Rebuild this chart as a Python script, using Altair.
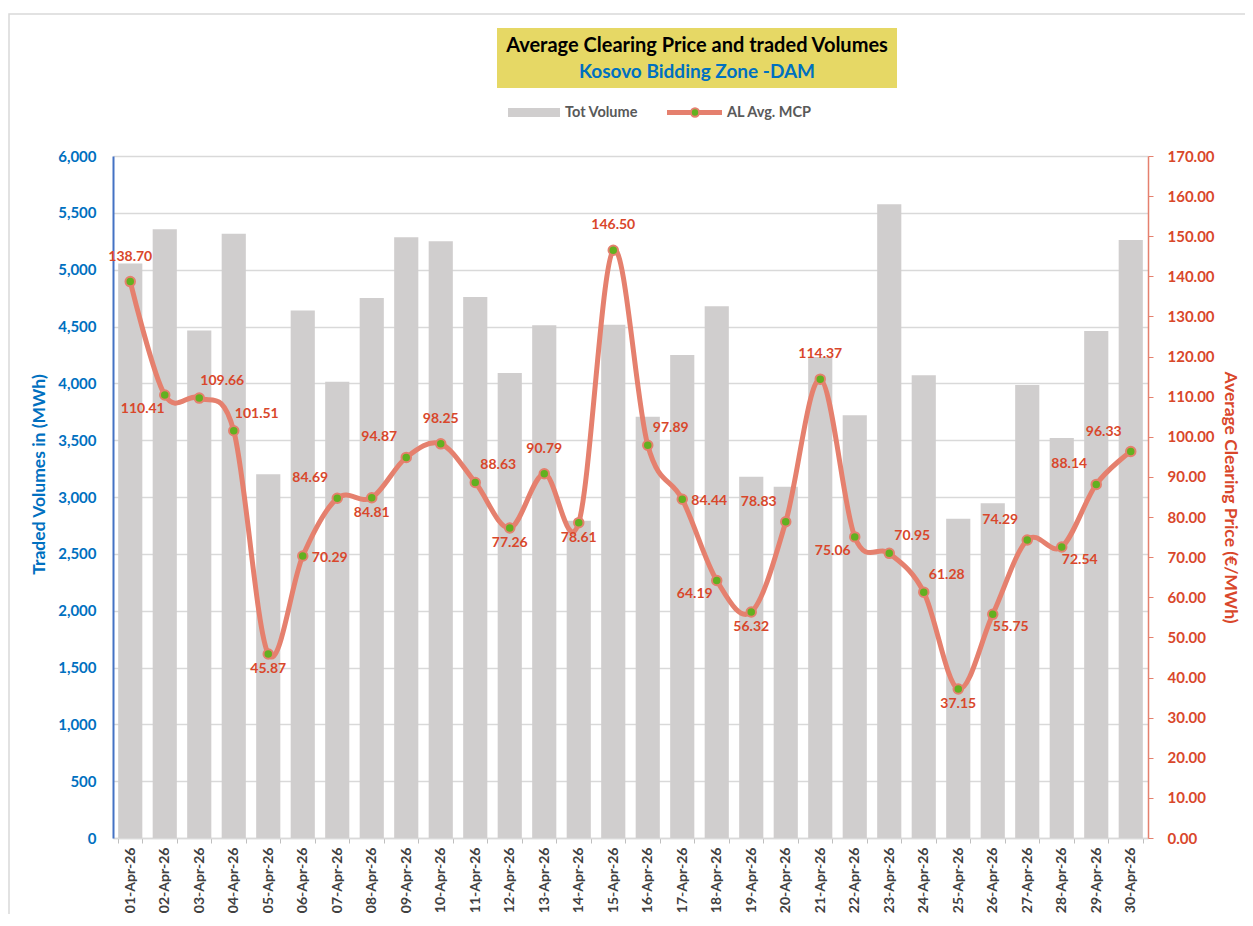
import altair as alt
import pandas as pd

days = ["01-Apr-26", "02-Apr-26", "03-Apr-26", "04-Apr-26", "05-Apr-26", "06-Apr-26",
        "07-Apr-26", "08-Apr-26", "09-Apr-26", "10-Apr-26", "11-Apr-26", "12-Apr-26",
        "13-Apr-26", "14-Apr-26", "15-Apr-26", "16-Apr-26", "17-Apr-26", "18-Apr-26",
        "19-Apr-26", "20-Apr-26", "21-Apr-26", "22-Apr-26", "23-Apr-26", "24-Apr-26",
        "25-Apr-26", "26-Apr-26", "27-Apr-26", "28-Apr-26", "29-Apr-26", "30-Apr-26"]

volumes = [5055, 5355, 4465, 5315, 3200, 4640, 4015, 4750, 5285, 5250,
           4760, 4090, 4510, 2790, 4515, 3705, 4250, 4678, 3178, 3090,
           4232, 3720, 5575, 4072, 2808, 2945, 3985, 3519, 4460, 5260]

prices = [138.70, 110.41, 109.66, 101.51, 45.87, 70.29, 84.69, 84.81, 94.87, 98.25,
          88.63, 77.26, 90.79, 78.61, 146.50, 97.89, 84.44, 64.19, 56.32, 78.83,
          114.37, 75.06, 70.95, 61.28, 37.15, 55.75, 74.29, 72.54, 88.14, 96.33]

# data-label placement around each point (compass code)
label_pos = ["N", "SW", "NE", "NE", "S", "E", "NW", "S", "NW", "N",
             "NE", "S", "N", "S", "N", "NE", "E", "SW", "S", "NW",
             "N", "SW", "NE", "NE", "S", "SE", "NW", "SE", "NW", "NW"]

vol_ticks = list(range(0, 6001, 500))
price_ticks = list(range(0, 171, 10))

df = pd.DataFrame({"day": days, "volume": volumes, "price": prices, "pos": label_pos})
one = pd.DataFrame({"k": [0]})

FONT = "Lato"
RED = "#D9472B"
SALMON = "#E5806E"
GREEN = "#62B020"
BLUE = "#0070C0"
BAR = "#D0CECE"

x_enc = alt.X(
    "day:N", sort=None,
    scale=alt.Scale(paddingInner=0.3, paddingOuter=0.15),
    axis=alt.Axis(title=None, labelAngle=270, labelFontSize=14, labelFontWeight="bold",
                  labelColor="#404040", labelFont=FONT, labelPadding=4,
                  tickBand="extent", ticks=True, tickColor="#BFBFBF", tickSize=5,
                  domainColor="#D9D9D9", domainWidth=1.5, grid=False),
)

bars = alt.Chart(df).mark_bar(color=BAR).encode(
    x=x_enc,
    y=alt.Y("volume:Q", scale=alt.Scale(domain=[0, 6000], nice=False),
            axis=alt.Axis(orient="left", values=vol_ticks, format=",d", title="Traded Volumes in (MWh)",
                          titleColor=BLUE, titleFontSize=17.5, titleFontWeight="bold", titleFont=FONT,
                          titlePadding=9, titleY=318,
                          labelColor=BLUE, labelFontSize=15, labelFontWeight="bold", labelFont=FONT,
                          labelPadding=17, ticks=False, domainColor="#4472C4", domainWidth=2,
                          grid=True, gridColor="#D9D9D9", gridWidth=1.5)),
)

y_price = alt.Y("price:Q", scale=alt.Scale(domain=[0, 170], nice=False),
                axis=alt.Axis(orient="right", values=price_ticks, format=".2f",
                              title="Average Clearing Price (€/MWh)",
                              titleColor=RED, titleFontSize=17.5, titleFontWeight="bold", titleFont=FONT,
                              titlePadding=6,
                              labelColor=RED, labelFontSize=15, labelFontWeight="bold", labelFont=FONT,
                              labelPadding=14, ticks=True, tickColor=SALMON, tickSize=5,
                              domainColor=SALMON, domainWidth=1.5, grid=False))

line = alt.Chart(df).mark_line(color=SALMON, strokeWidth=5, interpolate="cardinal").encode(
    x=x_enc, y=y_price)
pts = alt.Chart(df).mark_point(filled=True, fill=GREEN, stroke=SALMON, strokeWidth=2,
                               size=90, opacity=1).encode(x=x_enc, y=y_price)

offsets = {"N": (0, -25), "S": (0, 15), "NE": (23, -17), "NW": (-27, -20),
           "SW": (-22, 14), "SE": (18, 13), "E": (27, 2)}
label_layers = []
for code, (dx, dy) in offsets.items():
    label_layers.append(
        alt.Chart(df).transform_filter(alt.datum.pos == code)
        .mark_text(font=FONT, fontSize=14, fontWeight="bold", color=RED, dx=dx, dy=dy,
                   align="center", baseline="middle")
        .encode(x=x_enc, y=y_price, text=alt.Text("price:Q", format=".2f"))
    )

price_layer = alt.layer(line, pts, *label_layers)

# decorations: outer frame, title box, manual legend
frame = alt.Chart(one).mark_rect(fill=None, stroke="#D9D9D9", strokeWidth=1.5).encode(
    x=alt.value(-104), x2=alt.value(1170), y=alt.value(-142), y2=alt.value(800))
title_box = alt.Chart(one).mark_rect(color="#E6D865").encode(
    x=alt.value(384), x2=alt.value(784), y=alt.value(-128), y2=alt.value(-68))
title1 = alt.Chart(one).mark_text(font=FONT, fontSize=20, fontWeight="bold", color="#000000",
                                  align="center", baseline="middle").encode(
    x=alt.value(584), y=alt.value(-110), text=alt.value("Average Clearing Price and traded Volumes"))
title2 = alt.Chart(one).mark_text(font=FONT, fontSize=19, fontWeight="bold", color=BLUE,
                                  align="center", baseline="middle").encode(
    x=alt.value(584), y=alt.value(-84), text=alt.value("Kosovo Bidding Zone -DAM"))
leg_bar = alt.Chart(one).mark_rect(color=BAR).encode(
    x=alt.value(395), x2=alt.value(447), y=alt.value(-48), y2=alt.value(-39))
leg_t1 = alt.Chart(one).mark_text(font=FONT, fontSize=14.5, fontWeight="bold", color="#595959",
                                  align="left", baseline="middle").encode(
    x=alt.value(452), y=alt.value(-43.5), text=alt.value("Tot Volume"))
leg_line = alt.Chart(one).mark_rule(color=SALMON, strokeWidth=5).encode(
    x=alt.value(554), x2=alt.value(609), y=alt.value(-43.5))
leg_pt = alt.Chart(one).mark_point(filled=True, fill=GREEN, stroke=SALMON, strokeWidth=2,
                                   size=70, opacity=1).encode(x=alt.value(582), y=alt.value(-43.5))
leg_t2 = alt.Chart(one).mark_text(font=FONT, fontSize=14.5, fontWeight="bold", color="#595959",
                                  align="left", baseline="middle").encode(
    x=alt.value(614), y=alt.value(-43.5), text=alt.value("AL Avg. MCP"))

chart = alt.layer(
    bars, price_layer,
    frame, title_box, title1, title2, leg_bar, leg_t1, leg_line, leg_pt, leg_t2,
).resolve_scale(y="independent").properties(
    width=1035, height=682,
    autosize=alt.AutoSizeParams(type="none"),
    padding={"left": 105, "top": 148, "right": 97, "bottom": 76},
    background="white",
).configure_view(stroke=None)

chart.save("out.html", embed_options={"renderer": "svg", "actions": False})
